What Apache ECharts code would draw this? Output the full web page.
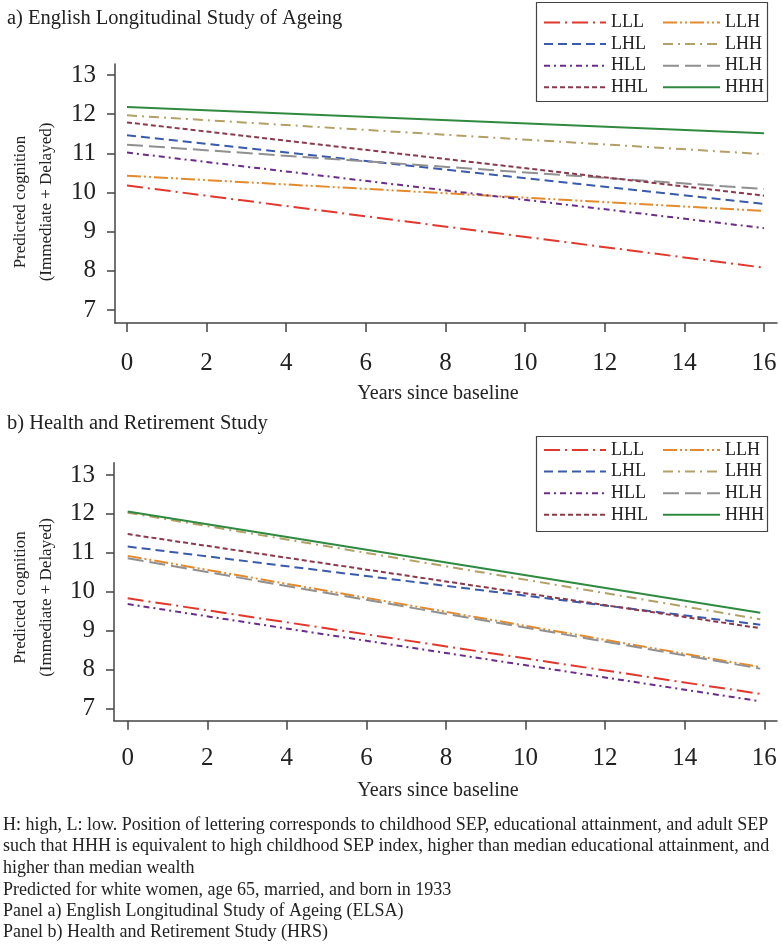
<!DOCTYPE html>
<html>
<head>
<meta charset="utf-8">
<script src="https://cdn.jsdelivr.net/npm/echarts@6/dist/echarts.min.js"></script>
<style>
html,body{margin:0;padding:0;background:#fff;}
#c{width:783px;height:946px;}
</style>
</head>
<body>
<div id="c"></div>
<script>
// ---- data ----
const groups = ['LLL', 'LLH', 'LHL', 'LHH', 'HLL', 'HLH', 'HHL', 'HHH'];
const xTicks = [0, 2, 4, 6, 8, 10, 12, 14, 16];
const yTicks = [7, 8, 9, 10, 11, 12, 13];

// Panel a) ELSA: predicted cognition at start and end of follow-up
const elsaYears = [0, 16];
const elsaLLL = [10.18, 8.08];
const elsaLLH = [10.43, 9.53];
const elsaLHL = [11.46, 9.71];
const elsaLHH = [11.97, 10.98];
const elsaHLL = [11.02, 9.09];
const elsaHLH = [11.22, 10.09];
const elsaHHL = [11.79, 9.92];
const elsaHHH = [12.18, 11.51];

// Panel b) HRS
const hrsYears = [0, 15.9];
const hrsLLL = [9.83, 7.37];
const hrsLLH = [10.92, 8.06];
const hrsLHL = [11.16, 9.15];
const hrsLHH = [12.03, 9.29];
const hrsHLL = [9.68, 7.18];
const hrsHLH = [10.86, 8.02];
const hrsHHL = [11.48, 9.06];
const hrsHHH = [12.06, 9.46];

const elsaVals = {LLL: elsaLLL, LLH: elsaLLH, LHL: elsaLHL, LHH: elsaLHH, HLL: elsaHLL, HLH: elsaHLH, HHL: elsaHHL, HHH: elsaHHH};
const hrsVals = {LLL: hrsLLL, LLH: hrsLLH, LHL: hrsLHL, LHH: hrsLHH, HLL: hrsHLL, HLH: hrsHLH, HHL: hrsHHL, HHH: hrsHHH};

const noteLines = [
  'H: high, L: low. Position of lettering corresponds to childhood SEP, educational attainment, and adult SEP',
  'such that HHH is equivalent to high childhood SEP index, higher than median educational attainment, and',
  'higher than median wealth',
  'Predicted for white women, age 65, married, and born in 1933',
  'Panel a) English Longitudinal Study of Ageing (ELSA)',
  'Panel b) Health and Retirement Study (HRS)'
];

// ---- styles ----
const styles = {
  LLL: {color: '#e2372c', type: [16, 5, 2, 5]},
  LLH: {color: '#e58a2c', type: [14, 3, 2, 3, 2, 3]},
  LHL: {color: '#3a5aab', type: [9, 5]},
  LHH: {color: '#b3a066', type: [10, 5, 2, 5]},
  HLL: {color: '#6b2c8a', type: [6, 4, 2, 4]},
  HLH: {color: '#909090', type: [16, 6]},
  HHL: {color: '#8b3a4b', type: [5, 3]},
  HHH: {color: '#2f8a40', type: 'solid'}
};

const FONT = '"Liberation Serif", "Times New Roman", serif';
const AXIS = '#444';

function mkSeries(vals, years, idx) {
  return groups.map(g => ({
    name: g,
    type: 'line',
    xAxisIndex: idx,
    yAxisIndex: idx,
    symbol: 'none',
    silent: true,
    animation: false,
    data: years.map((x, i) => [x, vals[g][i]]),
    lineStyle: {color: styles[g].color, width: 2, type: styles[g].type},
    itemStyle: {color: styles[g].color}
  }));
}

function mkX(idx, min, max, margin) {
  return {
    type: 'value', gridIndex: idx, min: min, max: max,
    splitLine: {show: false},
    axisLine: {show: true, onZero: false, lineStyle: {color: AXIS, width: 1.5}},
    axisTick: {show: true, customValues: xTicks, length: 9, lineStyle: {color: AXIS, width: 1.5}},
    axisLabel: {customValues: xTicks, margin: margin, fontSize: 25, fontFamily: FONT, color: '#222'}
  };
}
function mkY(idx, min, max) {
  return {
    type: 'value', gridIndex: idx, min: min, max: max,
    splitLine: {show: false},
    axisLine: {show: true, onZero: false, lineStyle: {color: AXIS, width: 1.5}},
    axisTick: {show: true, customValues: yTicks, length: 8, lineStyle: {color: AXIS, width: 1.5}},
    axisLabel: {customValues: yTicks, margin: 19, fontSize: 25, fontFamily: FONT, color: '#222'}
  };
}

function mkLegend(names, left, top, w) {
  return {
    orient: 'vertical', left: left, top: top,
    data: names, itemWidth: w, itemHeight: 14, itemGap: 3.6,
    selectedMode: false, padding: 0,
    itemStyle: {opacity: 0},
    textStyle: {fontSize: 18, fontFamily: FONT, color: '#222', lineHeight: 18}
  };
}

function txt(text, x, y, size, opts) {
  return Object.assign({
    type: 'text', x: x, y: y, silent: true,
    style: {text: text, fontSize: size, fontFamily: FONT, fill: '#222', align: 'left', verticalAlign: 'middle'}
  }, opts || {});
}

const graphics = [
  txt('a) English Longitudinal Study of Ageing', 7, 18.5, 20.5),
  txt('b) Health and Retirement Study', 7, 423.5, 20.5),
  {type: 'rect', silent: true, shape: {x: 536.5, y: 2.5, width: 231, height: 99}, style: {fill: 'none', stroke: '#444', lineWidth: 1.2}},
  {type: 'rect', silent: true, shape: {x: 536.5, y: 436.5, width: 231, height: 95}, style: {fill: 'none', stroke: '#444', lineWidth: 1.2}},
  {type: 'text', x: 21, y: 202, rotation: Math.PI / 2, silent: true,
    style: {text: 'Predicted cognition', fontSize: 17, fontFamily: FONT, fill: '#222', align: 'center', verticalAlign: 'middle'}},
  {type: 'text', x: 47, y: 202, rotation: Math.PI / 2, silent: true,
    style: {text: '(Immediate + Delayed)', fontSize: 17, fontFamily: FONT, fill: '#222', align: 'center', verticalAlign: 'middle'}},
  {type: 'text', x: 21, y: 597.5, rotation: Math.PI / 2, silent: true,
    style: {text: 'Predicted cognition', fontSize: 17, fontFamily: FONT, fill: '#222', align: 'center', verticalAlign: 'middle'}},
  {type: 'text', x: 47, y: 597.5, rotation: Math.PI / 2, silent: true,
    style: {text: '(Immediate + Delayed)', fontSize: 17, fontFamily: FONT, fill: '#222', align: 'center', verticalAlign: 'middle'}},
  {type: 'text', x: 438, y: 394, silent: true,
    style: {text: 'Years since baseline', fontSize: 20, fontFamily: FONT, fill: '#222', align: 'center', verticalAlign: 'middle'}},
  {type: 'text', x: 438, y: 791, silent: true,
    style: {text: 'Years since baseline', fontSize: 20, fontFamily: FONT, fill: '#222', align: 'center', verticalAlign: 'middle'}}
];
const noteY = [825, 846.7, 868, 890, 911, 932.7];
noteLines.forEach((t, i) => graphics.push(txt(t, 3, noteY[i], 18)));

const chart = echarts.init(document.getElementById('c'), null, {renderer: 'canvas'});
chart.setOption({
  backgroundColor: '#fff',
  animation: false,
  grid: [
    {left: 115, top: 64, width: 662, height: 259},
    {left: 114, top: 462.7, width: 663, height: 258}
  ],
  xAxis: [mkX(0, -0.301, 16.327, 28), mkX(1, -0.344, 16.32, 25)],
  yAxis: [mkY(0, 6.668, 13.281), mkY(1, 6.681, 13.316)],
  legend: [
    mkLegend(['LLL', 'LHL', 'HLL', 'HHL'], 543, 13.5, 62),
    mkLegend(['LLH', 'LHH', 'HLH', 'HHH'], 662, 13.5, 57),
    mkLegend(['LLL', 'LHL', 'HLL', 'HHL'], 543, 441, 62),
    mkLegend(['LLH', 'LHH', 'HLH', 'HHH'], 662, 441, 57)
  ],
  graphic: graphics,
  series: mkSeries(elsaVals, elsaYears, 0).concat(mkSeries(hrsVals, hrsYears, 1))
});
</script>
</body>
</html>
